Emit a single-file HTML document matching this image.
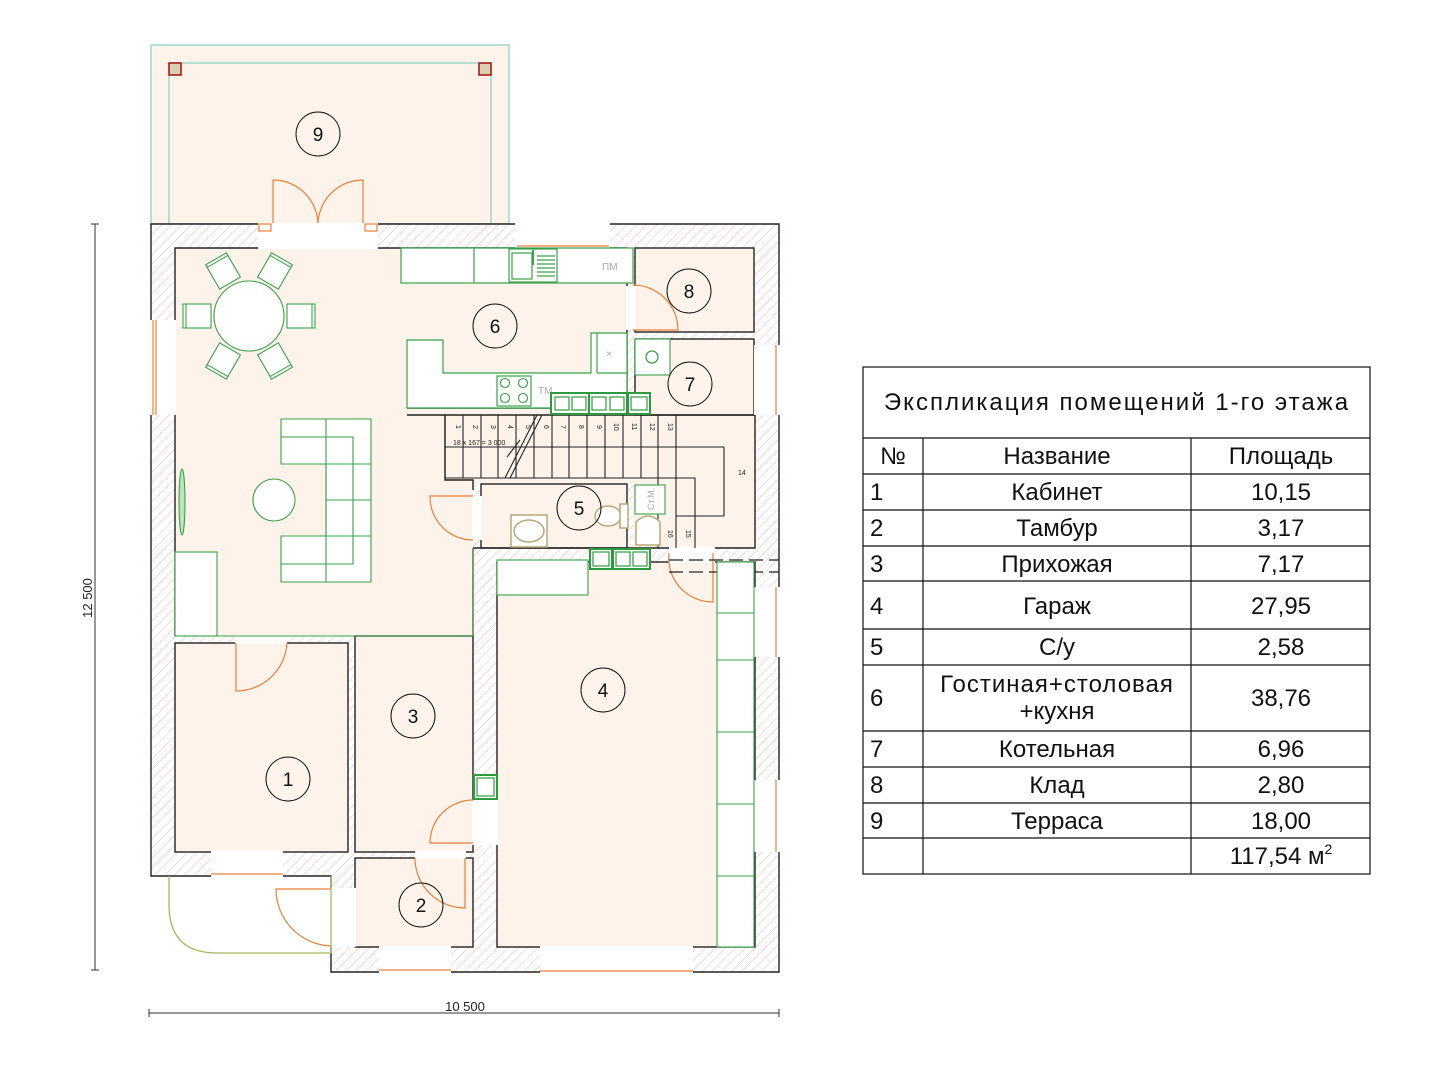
<!DOCTYPE html>
<html><head><meta charset="utf-8"><style>
html,body{margin:0;padding:0;background:#fff;}
svg{display:block;}
text{font-family:"Liberation Sans",sans-serif;}
</style></head><body>
<svg width="1440" height="1080" viewBox="0 0 1440 1080" xmlns="http://www.w3.org/2000/svg">
<defs>
<pattern id="h" width="7" height="7" patternUnits="userSpaceOnUse" patternTransform="rotate(45)">
<rect width="7" height="7" fill="#fff"/><line x1="0" y1="0" x2="0" y2="7" stroke="#f2b4b4" stroke-width="1"/>
</pattern>
</defs>
<rect width="1440" height="1080" fill="#fff"/>

<!-- terrace -->
<rect x="151" y="45" width="358" height="179" fill="#fdf3ea" stroke="#86d0c0" stroke-width="1.2"/>
<rect x="169" y="63" width="322" height="161" fill="none" stroke="#86d0c0" stroke-width="1.2"/>
<rect x="169" y="63" width="12" height="12" fill="#d8d0b0" stroke="#a01010" stroke-width="1.5"/>
<rect x="479" y="63" width="12" height="12" fill="#d8d0b0" stroke="#a01010" stroke-width="1.5"/>
<g fill="none" stroke="#e8803a" stroke-width="1.2">
<path d="M273,224 V180 A45,45 0 0 1 318,224"/>
<path d="M363,224 V180 A45,45 0 0 0 318,224"/>
</g>

<!-- building hatch -->
<rect x="151" y="224" width="628" height="652" fill="url(#h)"/>
<rect x="331" y="852" width="448" height="120" fill="url(#h)"/>

<!-- floors -->
<g fill="#fdf3ea">
<rect x="175" y="248" width="452" height="168"/>
<rect x="175" y="415" width="298" height="221"/>
<rect x="445" y="415" width="310" height="69"/>
<rect x="633" y="415" width="122" height="133"/>
<rect x="635" y="248" width="119" height="84"/>
<rect x="635" y="339" width="119" height="76"/>
<rect x="481" y="484" width="146" height="64"/>
<rect x="175" y="643" width="173" height="209"/>
<rect x="355" y="636" width="118" height="216"/>
<rect x="355" y="858" width="118" height="89"/>
<rect x="497" y="562" width="258" height="385"/>
</g>

<!-- outlines -->
<g fill="none" stroke="#222" stroke-width="1.4">
<path d="M151,224 H779 V972 H331 V876 H151 Z"/>
<rect x="175" y="643" width="173" height="209"/>
<rect x="355" y="636" width="118" height="216"/>
<rect x="355" y="858" width="118" height="89"/>
<rect x="497" y="562" width="258" height="385"/>
<rect x="635" y="248" width="119" height="84"/>
<rect x="635" y="339" width="119" height="76"/>
<rect x="481" y="484" width="146" height="64"/>
<path d="M175,320 V248 H258 M378,248 H627 V415 M175,415 V636 M473,636 V548 M473,490 V480 H445 V415 H755 V548 H473"/>
<path d="M407,408 H627 M407,415 H445"/>
</g>

<!-- openings white -->
<g fill="#fff">
<rect x="258" y="223" width="120" height="26"/>
<rect x="515" y="223" width="95" height="26"/>
<rect x="150" y="320" width="26" height="95"/>
<rect x="754" y="345" width="26" height="70"/>
<rect x="754" y="587" width="26" height="70"/>
<rect x="754" y="780" width="26" height="72"/>
<rect x="211" y="851" width="72" height="26"/>
<rect x="379" y="946" width="72" height="27"/>
<rect x="540" y="946" width="153" height="27"/>
<rect x="235" y="635" width="52" height="9"/>
<rect x="415" y="851" width="51" height="8"/>
<rect x="330" y="888" width="26" height="59"/>
<rect x="472" y="800" width="26" height="45"/>
<rect x="472" y="496" width="10" height="44"/>
<rect x="626" y="286" width="10" height="44"/>
<rect x="669" y="547" width="46" height="16"/>
</g>
<g fill="none" stroke="#e8803a" stroke-width="1.2">
<line x1="153" y1="320" x2="153" y2="415"/><line x1="156" y1="320" x2="156" y2="415"/>
<line x1="776" y1="345" x2="776" y2="415"/><line x1="776" y1="587" x2="776" y2="657"/><line x1="776" y1="780" x2="776" y2="852"/>
<line x1="211" y1="874" x2="283" y2="874"/><line x1="379" y1="970" x2="451" y2="970"/><line x1="540" y1="971" x2="693" y2="971"/>
<line x1="517" y1="246" x2="609" y2="246"/>
<rect x="259" y="224" width="12" height="7"/><rect x="365" y="224" width="12" height="7"/>
<!-- doors -->
<path d="M236,643 V691 A51,51 0 0 0 287,643"/>
<path d="M465,858 V908 A50,50 0 0 1 415,858"/>
<path d="M473,843 H430 A43,43 0 0 1 473,800"/>
<path d="M331,889 H276 A57,57 0 0 0 331,946"/>
<path d="M473,496 H430 A43,43 0 0 0 473,540"/>
<path d="M633,330 H678 A45,45 0 0 0 633,285"/>
<path d="M713,553 V602 A44,44 0 0 1 669,553"/>
</g>
<g stroke="#222" stroke-width="1.2" stroke-dasharray="14,6">
<line x1="669" y1="560" x2="779" y2="560"/><line x1="669" y1="572" x2="779" y2="572"/>
</g>

<!-- porch -->
<path d="M169,876 V905 Q169,953 217,953 H331 V876" fill="none" stroke="#a8b860" stroke-width="1.3"/>

<!-- stairs -->
<g stroke="#222" stroke-width="1.1" fill="none">
<path d="M445,415 V478 H695 V548"/>
<line x1="445" y1="447" x2="724" y2="447"/><line x1="724" y1="447" x2="724" y2="516"/><line x1="676" y1="516" x2="724" y2="516"/>
<line x1="463" y1="415" x2="463" y2="478"/><line x1="481" y1="415" x2="481" y2="478"/><line x1="498" y1="415" x2="498" y2="478"/>
<line x1="516" y1="415" x2="516" y2="478"/><line x1="534" y1="415" x2="534" y2="478"/><line x1="552" y1="415" x2="552" y2="478"/>
<line x1="569" y1="415" x2="569" y2="478"/><line x1="587" y1="415" x2="587" y2="478"/><line x1="605" y1="415" x2="605" y2="478"/>
<line x1="623" y1="415" x2="623" y2="478"/><line x1="641" y1="415" x2="641" y2="478"/><line x1="658" y1="415" x2="658" y2="548"/>
<line x1="676" y1="415" x2="676" y2="548"/>
<line x1="505" y1="478" x2="537" y2="415"/><line x1="510" y1="478" x2="542" y2="415"/>
<line x1="507" y1="457" x2="520" y2="440"/>
</g>
<g font-size="7" fill="#222">
<text transform="translate(456,425) rotate(90)">1</text><text transform="translate(473,425) rotate(90)">2</text>
<text transform="translate(491,425) rotate(90)">3</text><text transform="translate(508,425) rotate(90)">4</text>
<text transform="translate(526,425) rotate(90)">5</text><text transform="translate(544,425) rotate(90)">6</text>
<text transform="translate(561,425) rotate(90)">7</text><text transform="translate(579,425) rotate(90)">8</text>
<text transform="translate(597,425) rotate(90)">9</text><text transform="translate(614,423) rotate(90)">10</text>
<text transform="translate(632,423) rotate(90)">11</text><text transform="translate(650,423) rotate(90)">12</text>
<text transform="translate(668,423) rotate(90)">13</text>
<text transform="translate(668,530) rotate(90)">16</text><text transform="translate(686,530) rotate(90)">15</text>
<text x="738" y="475">14</text>
<text x="453" y="445">18 x 167 = 3 000</text>
</g>

<!-- kitchen -->
<g fill="#fff" stroke="#3aa04a" stroke-width="1.2">
<rect x="401" y="248" width="232" height="35"/>
<line x1="474" y1="248" x2="474" y2="283"/>
<rect x="509" y="249" width="48" height="33"/>
<rect x="512" y="253" width="20" height="26"/>
<path d="M407,340 H443 V373 H591 V333 H627 V408 H407 Z"/>
<line x1="597" y1="333" x2="597" y2="373"/>
<line x1="597" y1="373" x2="627" y2="373"/>
<rect x="497" y="376" width="34" height="30"/>
</g>
<g stroke="#3aa04a" stroke-width="1.2">
<line x1="537" y1="256" x2="555" y2="256"/><line x1="537" y1="260" x2="555" y2="260"/><line x1="537" y1="264" x2="555" y2="264"/><line x1="537" y1="268" x2="555" y2="268"/><line x1="537" y1="272" x2="555" y2="272"/><line x1="537" y1="276" x2="555" y2="276"/>
<line x1="533" y1="250" x2="533" y2="265" stroke-width="2"/>
</g>
<g fill="none" stroke="#3aa04a" stroke-width="1.1">
<circle cx="505" cy="383" r="4.5"/><circle cx="523" cy="383" r="4.5"/><circle cx="505" cy="398" r="4.5"/><circle cx="523" cy="398" r="4.5"/>
</g>
<g font-size="10" fill="#aaa"><text x="602" y="270">ПМ</text><text x="538" y="394">ТМ</text><text x="606" y="357">×</text></g>

<!-- vent blocks -->
<g fill="#fff" stroke="#2e9a3e" stroke-width="2">
<rect x="551" y="393" width="38" height="21"/><rect x="589" y="393" width="38" height="21"/><rect x="628" y="393" width="22" height="21"/>
<rect x="590" y="549" width="22" height="20"/><rect x="613" y="549" width="37" height="20"/>
<rect x="474" y="775" width="23" height="24"/>
</g>
<g fill="none" stroke="#2e9a3e" stroke-width="1.2">
<rect x="555" y="397" width="14" height="13"/><rect x="572" y="397" width="14" height="13"/><rect x="592" y="397" width="14" height="13"/><rect x="610" y="397" width="14" height="13"/><rect x="631" y="397" width="16" height="13"/>
<rect x="593" y="552" width="16" height="14"/><rect x="616" y="552" width="14" height="14"/><rect x="633" y="552" width="14" height="14"/>
<rect x="477" y="778" width="17" height="18"/>
</g>

<!-- boiler room 7 -->
<rect x="635" y="339" width="35" height="36" fill="#fff" stroke="#3aa04a" stroke-width="1.1"/>
<circle cx="652" cy="357" r="6" fill="none" stroke="#3aa04a" stroke-width="1.3"/>

<!-- room 5 fixtures -->
<g fill="#fff" stroke="#b8a878" stroke-width="1.5">
<rect x="511" y="515" width="36" height="32"/>
<ellipse cx="529" cy="531" rx="15" ry="11"/>
<ellipse cx="608" cy="516" rx="13" ry="10"/>
<rect x="620" y="504" width="8" height="24"/>
<path d="M636,522 Q648,510 660,522 V545 H636 Z"/>
</g>
<rect x="635" y="485" width="30" height="29" fill="#fff" stroke="#3aa04a" stroke-width="1.1"/>
<text transform="translate(654,510) rotate(-90)" font-size="9" fill="#aaa">Ст.М.</text>

<!-- dining -->
<g fill="#fff" stroke="#3aa04a" stroke-width="1.1">
<circle cx="249" cy="316" r="35"/>
<g transform="translate(249,316)">
<g transform="rotate(0)"><rect x="38" y="-12" width="28" height="24"/><line x1="63" y1="-12" x2="63" y2="12"/></g>
<g transform="rotate(180)"><rect x="38" y="-12" width="28" height="24"/><line x1="63" y1="-12" x2="63" y2="12"/></g>
<g transform="rotate(60)"><rect x="38" y="-12" width="28" height="24"/><line x1="63" y1="-12" x2="63" y2="12"/></g>
<g transform="rotate(120)"><rect x="38" y="-12" width="28" height="24"/><line x1="63" y1="-12" x2="63" y2="12"/></g>
<g transform="rotate(-60)"><rect x="38" y="-12" width="28" height="24"/><line x1="63" y1="-12" x2="63" y2="12"/></g>
<g transform="rotate(-120)"><rect x="38" y="-12" width="28" height="24"/><line x1="63" y1="-12" x2="63" y2="12"/></g>
</g>
<!-- sofa -->
<path d="M281,419 H371 V582 H281 V536 H326 V464 H281 Z"/>
<g fill="none"><line x1="326" y1="419" x2="326" y2="582"/><path d="M281,437 H353 V564 H281"/>
<line x1="326" y1="500" x2="371" y2="500"/><line x1="326" y1="536" x2="371" y2="536"/><line x1="326" y1="464" x2="371" y2="464"/></g>
<circle cx="274" cy="500" r="21"/>
<rect x="175" y="552" width="42" height="84"/>
<ellipse cx="182" cy="502" rx="3" ry="33" fill="#bfe3c0"/>
</g>
<line x1="217" y1="636" x2="473" y2="636" stroke="#3aa04a" stroke-width="1"/>
<line x1="473" y1="548" x2="473" y2="636" stroke="#3aa04a" stroke-width="1"/>

<!-- garage shelving -->
<g fill="#fff" stroke="#3aa04a" stroke-width="1.1">
<rect x="497" y="560" width="91" height="35"/>
<rect x="717" y="562" width="37" height="385"/>
<line x1="717" y1="613" x2="754" y2="613"/><line x1="717" y1="660" x2="754" y2="660"/><line x1="717" y1="732" x2="754" y2="732"/><line x1="717" y1="804" x2="754" y2="804"/><line x1="717" y1="876" x2="754" y2="876"/>
</g>

<!-- room labels -->
<g fill="none" stroke="#111" stroke-width="1">
<circle cx="318" cy="134" r="22"/><circle cx="495" cy="326" r="22"/><circle cx="689" cy="291" r="22"/>
<circle cx="690" cy="384" r="22"/><circle cx="579" cy="508" r="22"/><circle cx="288" cy="779" r="22"/>
<circle cx="413" cy="716" r="22"/><circle cx="421" cy="905" r="22"/><circle cx="603" cy="690" r="22"/>
</g>
<g font-size="19" fill="#111" text-anchor="middle">
<text x="318" y="141">9</text><text x="495" y="333">6</text><text x="689" y="298">8</text>
<text x="690" y="391">7</text><text x="579" y="515">5</text><text x="288" y="786">1</text>
<text x="413" y="723">3</text><text x="421" y="912">2</text><text x="603" y="697">4</text>
</g>

<!-- dimensions -->
<g stroke="#333" stroke-width="1">
<line x1="95" y1="224" x2="95" y2="970"/><line x1="91" y1="224" x2="99" y2="224"/><line x1="91" y1="970" x2="99" y2="970"/>
<line x1="149" y1="1013" x2="779" y2="1013"/><line x1="149" y1="1009" x2="149" y2="1017"/><line x1="779" y1="1009" x2="779" y2="1017"/>
</g>
<text x="465" y="1011" font-size="13" text-anchor="middle" fill="#222">10 500</text>
<text transform="translate(92,598) rotate(-90)" font-size="13" text-anchor="middle" fill="#222">12 500</text>

<!-- table -->
<g fill="none" stroke="#111" stroke-width="1.2">
<rect x="863" y="367" width="507" height="507"/>
<line x1="863" y1="438" x2="1370" y2="438"/>
<line x1="863" y1="474" x2="1370" y2="474"/><line x1="863" y1="510" x2="1370" y2="510"/>
<line x1="863" y1="546" x2="1370" y2="546"/><line x1="863" y1="581" x2="1370" y2="581"/>
<line x1="863" y1="629" x2="1370" y2="629"/><line x1="863" y1="665" x2="1370" y2="665"/>
<line x1="863" y1="731" x2="1370" y2="731"/><line x1="863" y1="767" x2="1370" y2="767"/>
<line x1="863" y1="803" x2="1370" y2="803"/><line x1="863" y1="838" x2="1370" y2="838"/>
<line x1="923" y1="438" x2="923" y2="874"/><line x1="1191" y1="438" x2="1191" y2="874"/>
</g>
<g font-size="24" fill="#111" style="font-family:'Liberation Sans Narrow','Liberation Sans',sans-serif">
<text x="1117" y="410" text-anchor="middle" letter-spacing="2">Экспликация помещений 1-го этажа</text>
<text x="893" y="464" text-anchor="middle">№</text>
<text x="1057" y="464" text-anchor="middle">Название</text>
<text x="1281" y="464" text-anchor="middle">Площадь</text>
<g>
<text x="870" y="500">1</text><text x="1057" y="500" text-anchor="middle">Кабинет</text><text x="1281" y="500" text-anchor="middle">10,15</text>
<text x="870" y="536">2</text><text x="1057" y="536" text-anchor="middle">Тамбур</text><text x="1281" y="536" text-anchor="middle">3,17</text>
<text x="870" y="572">3</text><text x="1057" y="572" text-anchor="middle">Прихожая</text><text x="1281" y="572" text-anchor="middle">7,17</text>
<text x="870" y="614">4</text><text x="1057" y="614" text-anchor="middle">Гараж</text><text x="1281" y="614" text-anchor="middle">27,95</text>
<text x="870" y="655">5</text><text x="1057" y="655" text-anchor="middle">С/у</text><text x="1281" y="655" text-anchor="middle">2,58</text>
<text x="870" y="706">6</text><text x="1057" y="692" text-anchor="middle" letter-spacing="1">Гостиная+столовая</text><text x="1057" y="719" text-anchor="middle">+кухня</text><text x="1281" y="706" text-anchor="middle">38,76</text>
<text x="870" y="757">7</text><text x="1057" y="757" text-anchor="middle">Котельная</text><text x="1281" y="757" text-anchor="middle">6,96</text>
<text x="870" y="793">8</text><text x="1057" y="793" text-anchor="middle">Клад</text><text x="1281" y="793" text-anchor="middle">2,80</text>
<text x="870" y="829">9</text><text x="1057" y="829" text-anchor="middle">Терраса</text><text x="1281" y="829" text-anchor="middle">18,00</text>
<text x="1281" y="864" text-anchor="middle">117,54 м<tspan font-size="14" dy="-10">2</tspan></text>
</g>
</g>
</svg>
</body></html>
